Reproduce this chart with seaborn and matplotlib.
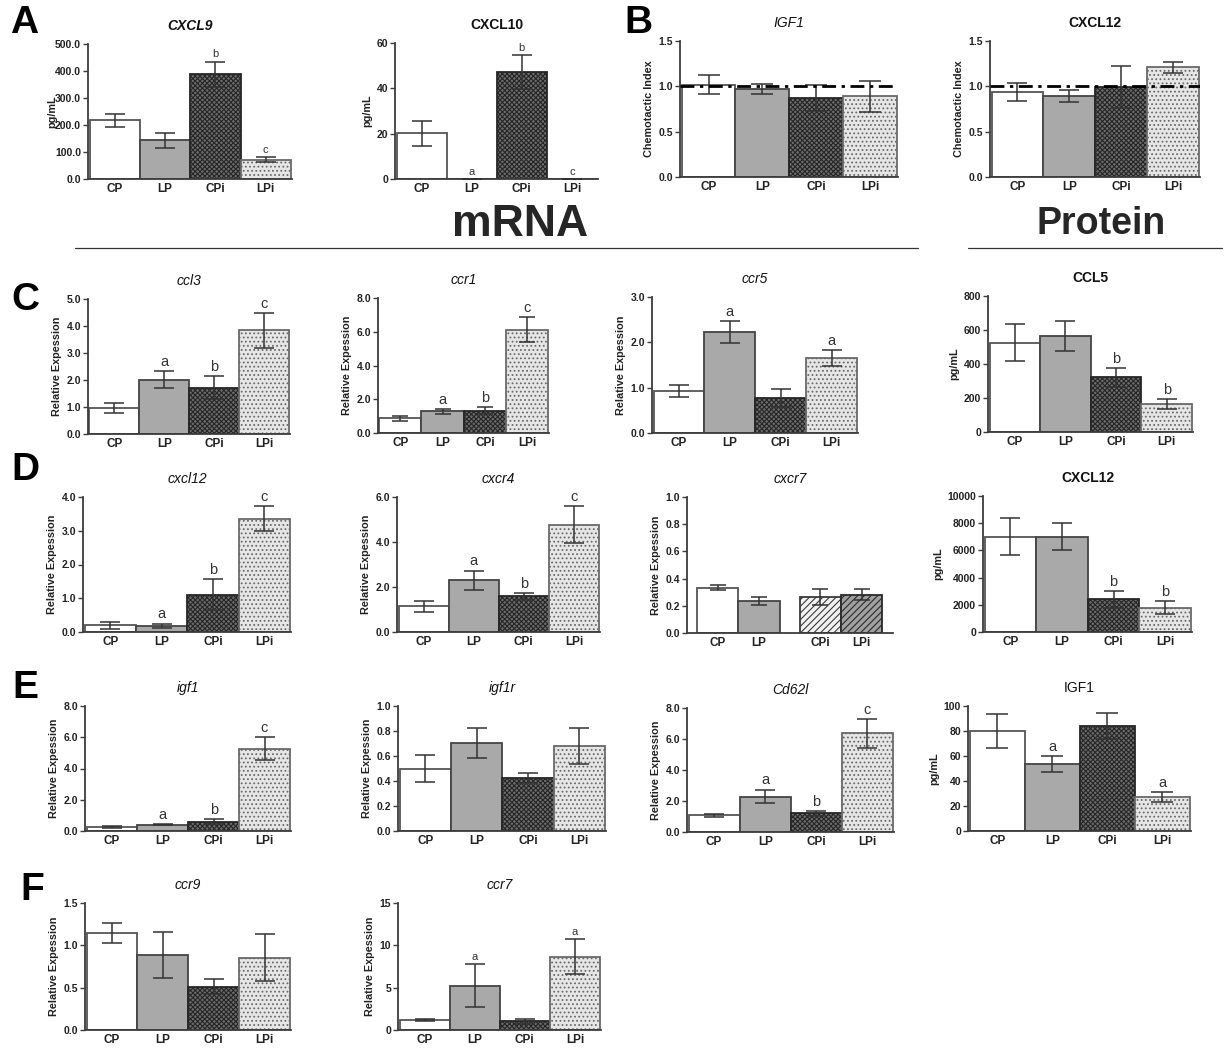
import numpy as np
import pandas as pd
import matplotlib
matplotlib.use("Agg")
import matplotlib.pyplot as plt
import seaborn as sns

sns.set_theme(style="ticks")
plt.rcParams["font.family"] = ["Liberation Sans", "DejaVu Sans"]
plt.rcParams["hatch.linewidth"] = 0.8

# ---------------- data ----------------
groups = ["CP", "LP", "CPi", "LPi"]

cxcl9_mean = [217, 143, 388, 72]
cxcl9_err = [23, 27, 47, 9]
cxcl9_sig = ["", "", "b", "c"]

cxcl10_mean = [20.1, 0.0, 47.3, 0.0]
cxcl10_err = [5.5, 0.0, 7.5, 0.0]
cxcl10_sig = ["", "a", "b", "c"]

igf1_chemo_mean = [1.02, 0.97, 0.87, 0.89]
igf1_chemo_err = [0.10, 0.055, 0.145, 0.17]

cxcl12_chemo_mean = [0.94, 0.89, 0.99, 1.21]
cxcl12_chemo_err = [0.10, 0.067, 0.23, 0.06]

ccl3_mean = [0.95, 2.01, 1.72, 3.84]
ccl3_err = [0.18, 0.31, 0.44, 0.64]
ccl3_sig = ["", "a", "b", "c"]

ccr1_mean = [0.86, 1.28, 1.32, 6.13]
ccr1_err = [0.17, 0.13, 0.22, 0.75]
ccr1_sig = ["", "a", "b", "c"]

ccr5_mean = [0.92, 2.23, 0.77, 1.65]
ccr5_err = [0.13, 0.24, 0.19, 0.17]
ccr5_sig = ["", "a", "", "a"]

ccl5_mean = [526, 564, 321, 166]
ccl5_err = [108, 88, 55, 28]
ccl5_sig = ["", "", "b", "b"]

cxcl12_mean = [0.20, 0.19, 1.11, 3.36]
cxcl12_err = [0.11, 0.06, 0.45, 0.38]
cxcl12_sig = ["", "a", "b", "c"]

cxcr4_mean = [1.14, 2.30, 1.59, 4.76]
cxcr4_err = [0.24, 0.43, 0.15, 0.82]
cxcr4_sig = ["", "a", "b", "c"]

cxcr7_mean = [0.333, 0.236, 0.264, 0.283]
cxcr7_err = [0.02, 0.03, 0.06, 0.037]

cxcl12_prot_mean = [7000, 7000, 2400, 1800]
cxcl12_prot_err = [1350, 1000, 620, 470]
cxcl12_prot_sig = ["", "", "b", "b"]

igf1_mean = [0.24, 0.41, 0.59, 5.28]
igf1_err = [0.05, 0.03, 0.15, 0.75]
igf1_sig = ["", "a", "b", "c"]

igf1r_mean = [0.50, 0.707, 0.426, 0.68]
igf1r_err = [0.105, 0.12, 0.04, 0.146]

cd62l_mean = [1.07, 2.29, 1.20, 6.36]
cd62l_err = [0.08, 0.45, 0.14, 0.93]
cd62l_sig = ["", "a", "b", "c"]

igf1_prot_mean = [79.9, 53.8, 84.3, 27.3]
igf1_prot_err = [13.7, 6.4, 10.3, 4.2]
igf1_prot_sig = ["", "a", "", "a"]

ccr9_mean = [1.145, 0.887, 0.51, 0.853]
ccr9_err = [0.122, 0.27, 0.09, 0.28]

ccr7_mean = [1.15, 5.25, 1.03, 8.68]
ccr7_err = [0.1, 2.5, 0.3, 2.07]
ccr7_sig = ["", "a", "", "a"]

# ---------------- styles ----------------
STD = [
    dict(fc="white", ec="#555555", hatch=""),
    dict(fc="#a9a9a9", ec="#444444", hatch=""),
    dict(fc="#6c6c6c", ec="#262626", hatch="xxxxxxx"),
    dict(fc="#e6e6e6", ec="#6a6a6a", hatch="...."),
]
C7 = [
    dict(fc="white", ec="#555555", hatch=""),
    dict(fc="#a9a9a9", ec="#444444", hatch=""),
    dict(fc="#f2f2f2", ec="#3a3a3a", hatch="/////"),
    dict(fc="#a0a0a0", ec="#2a2a2a", hatch="/////"),
]

W, H = 1226, 1048
fig = plt.figure(figsize=(W / 100, H / 100), dpi=100)

RE = "Relative Expession"
PG = "pg/mL"
CI = "Chemotactic Index"

panels = [
    dict(t="CXCL9", ts="bi", yl=PG, m=cxcl9_mean, e=cxcl9_err, s=cxcl9_sig, ymax=500, step=100, fmt="{:.1f}", box=(88, 292, 44, 179), ylx=-0.15, ss=8),
    dict(t="CXCL10", ts="b", yl=PG, m=cxcl10_mean, e=cxcl10_err, s=cxcl10_sig, ymax=60, step=20, fmt="{:.0f}", box=(395, 598, 43, 179), ss=8),
    dict(t="IGF1", ts="i", yl=CI, m=igf1_chemo_mean, e=igf1_chemo_err, s=None, ymax=1.5, step=0.5, fmt="{:.1f}", box=(680, 898, 41, 177), ref=True),
    dict(t="CXCL12", ts="b", yl=CI, m=cxcl12_chemo_mean, e=cxcl12_chemo_err, s=None, ymax=1.5, step=0.5, fmt="{:.1f}", box=(990, 1200, 41, 177), ref=True),
    dict(t="ccl3", ts="i", yl=RE, m=ccl3_mean, e=ccl3_err, s=ccl3_sig, ymax=5, step=1, fmt="{:.1f}", box=(88, 290, 299, 434)),
    dict(t="ccr1", ts="i", yl=RE, m=ccr1_mean, e=ccr1_err, s=ccr1_sig, ymax=8, step=2, fmt="{:.1f}", box=(378, 549, 298, 433)),
    dict(t="ccr5", ts="i", yl=RE, m=ccr5_mean, e=ccr5_err, s=ccr5_sig, ymax=3, step=1, fmt="{:.1f}", box=(652, 858, 297, 433)),
    dict(t="CCL5", ts="b", yl=PG, m=ccl5_mean, e=ccl5_err, s=ccl5_sig, ymax=800, step=200, fmt="{:.0f}", box=(988, 1193, 296, 432)),
    dict(t="cxcl12", ts="i", yl=RE, m=cxcl12_mean, e=cxcl12_err, s=cxcl12_sig, ymax=4, step=1, fmt="{:.1f}", box=(83, 291, 497, 632)),
    dict(t="cxcr4", ts="i", yl=RE, m=cxcr4_mean, e=cxcr4_err, s=cxcr4_sig, ymax=6, step=2, fmt="{:.1f}", box=(397, 600, 497, 632)),
    dict(t="cxcr7", ts="i", yl=RE, m=cxcr7_mean, e=cxcr7_err, s=None, ymax=1.0, step=0.2, fmt="{:.1f}", box=(687, 893, 497, 633), gap=True),
    dict(t="CXCL12", ts="b", yl=PG, m=cxcl12_prot_mean, e=cxcl12_prot_err, s=cxcl12_prot_sig, ymax=10000, step=2000, fmt="{:.0f}", box=(983, 1192, 496, 632)),
    dict(t="igf1", ts="i", yl=RE, m=igf1_mean, e=igf1_err, s=igf1_sig, ymax=8, step=2, fmt="{:.1f}", box=(85, 291, 706, 831)),
    dict(t="igf1r", ts="i", yl=RE, m=igf1r_mean, e=igf1r_err, s=None, ymax=1.0, step=0.2, fmt="{:.1f}", box=(398, 606, 706, 831)),
    dict(t="Cd62l", ts="i", yl=RE, m=cd62l_mean, e=cd62l_err, s=cd62l_sig, ymax=8, step=2, fmt="{:.1f}", box=(687, 894, 708, 832)),
    dict(t="IGF1", ts="n", yl=PG, m=igf1_prot_mean, e=igf1_prot_err, s=igf1_prot_sig, ymax=100, step=20, fmt="{:.0f}", box=(968, 1191, 706, 831)),
    dict(t="ccr9", ts="i", yl=RE, m=ccr9_mean, e=ccr9_err, s=None, ymax=1.5, step=0.5, fmt="{:.1f}", box=(85, 291, 903, 1030)),
    dict(t="ccr7", ts="i", yl=RE, m=ccr7_mean, e=ccr7_err, s=ccr7_sig, ymax=15, step=5, fmt="{:.0f}", box=(398, 601, 903, 1030), ss=8),
]

AX_COL = "#3c3c3c"

for p in panels:
    l, r, t, b = p["box"]
    ax = fig.add_axes([l / W, 1 - b / H, (r - l) / W, (b - t) / H])
    if p.get("gap"):
        pos = np.array([0.0, 1.0, 2.48, 3.48])
        xlim = (-0.74, 4.24)
        styles = C7
    else:
        pos = np.arange(4, dtype=float)
        xlim = (-0.53, 3.52)
        styles = STD
    df = pd.DataFrame({"x": pos, "y": p["m"]})
    sns.barplot(data=df, x="x", y="y", native_scale=True, width=1.0,
                errorbar=None, color="white", ax=ax, zorder=1)
    for patch, st in zip(ax.patches, styles):
        patch.set_facecolor(st["fc"])
        patch.set_edgecolor(st["ec"])
        patch.set_hatch(st["hatch"])
        patch.set_linewidth(1.3)
    barpx = (r - l) / (xlim[1] - xlim[0])
    cap = 0.2 * barpx * 0.72
    ax.errorbar(pos, p["m"], yerr=p["e"], fmt="none", ecolor="#333333",
                elinewidth=1.1, capsize=cap, capthick=1.1, zorder=3)
    if p.get("ref"):
        ax.axhline(1.0, color="black", lw=2.0, ls=(0, (5, 2, 1.2, 2)), zorder=4)
    ax.set_xlim(*xlim)
    ax.set_ylim(0, p["ymax"])
    ticks = np.arange(0, p["ymax"] + p["step"] / 2, p["step"])
    ax.set_yticks(ticks)
    ax.set_yticklabels([p["fmt"].format(v) for v in ticks], fontsize=7.5,
                       fontweight="bold", color="#222222")
    ax.set_xticks(pos)
    ax.set_xticklabels(groups, fontsize=8.5, fontweight="bold", color="#222222")
    ax.tick_params(axis="x", length=0, pad=3)
    ax.tick_params(axis="y", length=3.5, width=1.0, color=AX_COL, pad=1.5)
    for side in ("top", "right"):
        ax.spines[side].set_visible(False)
    for side in ("left", "bottom"):
        ax.spines[side].set_color(AX_COL)
        ax.spines[side].set_linewidth(1.3)
    ax.set_xlabel("")
    ax.set_ylabel(p["yl"], fontsize=7.8, fontweight="bold", color="#222222", labelpad=3)
    if "ylx" in p:
        ax.yaxis.set_label_coords(p["ylx"], 0.5)
    ts = p["ts"]
    ax.set_title(p["t"], fontsize=10,
                 fontweight="bold" if "b" in ts else "normal",
                 fontstyle="italic" if "i" in ts else "normal",
                 color="#111111", pad=10)
    if p["s"]:
        for xi, mv, ev, lab in zip(pos, p["m"], p["e"], p["s"]):
            if lab:
                ax.annotate(lab, (xi, mv + ev), xytext=(0, 1.5), textcoords="offset points",
                            ha="center", va="bottom", fontsize=p.get("ss", 10.5),
                            color="#333333")

# panel letters
for lab, x, y in [("A", 24, 23), ("B", 638, 23), ("C", 25, 300), ("D", 25, 470),
                  ("E", 25, 688), ("F", 32, 890)]:
    fig.text(x / W, 1 - y / H, lab, fontsize=28, fontweight="bold",
             ha="center", va="center", color="black")

# section headers
fig.text(520 / W, 1 - 224 / H, "mRNA", fontsize=32, fontweight="bold",
         ha="center", va="center")
fig.text(1101 / W, 1 - 224 / H, "Protein", fontsize=27, fontweight="bold",
         ha="center", va="center")
fig.add_artist(plt.Line2D([75 / W, 918 / W], [1 - 248 / H, 1 - 248 / H],
                          color="#333333", lw=0.9))
fig.add_artist(plt.Line2D([968 / W, 1222 / W], [1 - 248 / H, 1 - 248 / H],
                          color="#333333", lw=0.9))

fig.savefig("out.png", dpi=100)
